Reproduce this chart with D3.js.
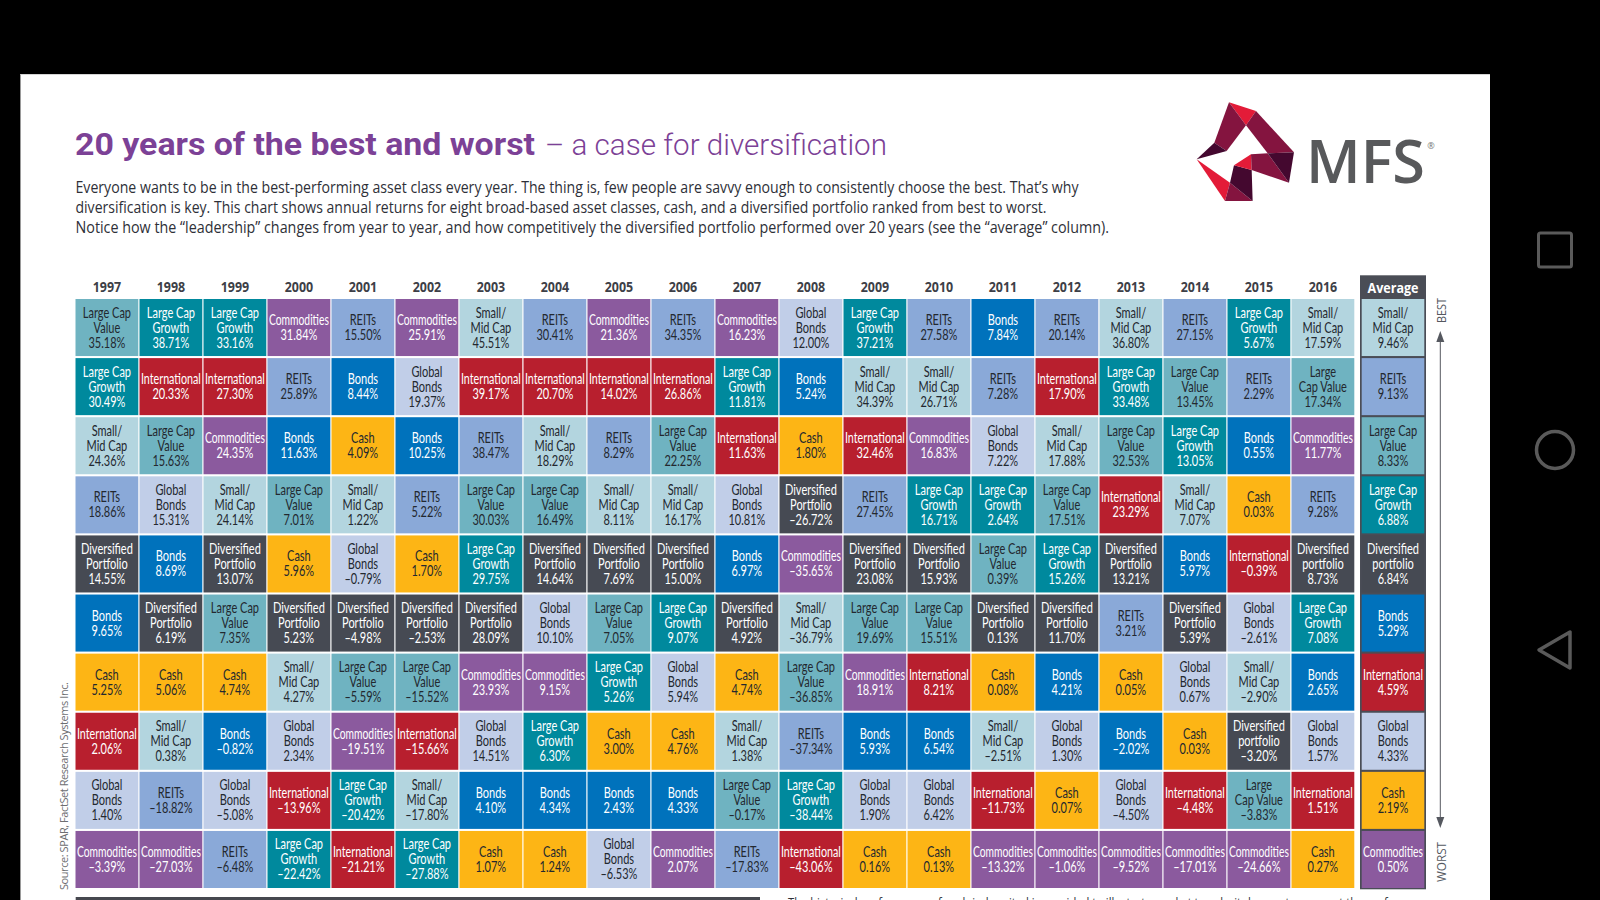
<!DOCTYPE html>
<html>
<head>
<meta charset="utf-8">
<script src="https://cdn.jsdelivr.net/npm/d3@7"></script>
<style>
  html, body { margin: 0; background: #000; overflow: hidden; }
  text { font-family: "Open Sans", sans-serif; }
</style>
</head>
<body>
<div id="chart"></div>
<script>
const years = ["1997","1998","1999","2000","2001","2002","2003","2004","2005","2006","2007","2008","2009","2010","2011","2012","2013","2014","2015","2016"];
const ranks = d3.range(10);

// asset class shown in each rank, best to worst, one row per year
const assets1997 = ["LCV","LCG","SMC","RE","DP","BO","CA","IN","GB","CO"];
const assets1998 = ["LCG","IN","LCV","GB","BO","DP","CA","SMC","RE","CO"];
const assets1999 = ["LCG","IN","CO","SMC","DP","LCV","CA","BO","GB","RE"];
const assets2000 = ["CO","RE","BO","LCV","CA","DP","SMC","GB","IN","LCG"];
const assets2001 = ["RE","BO","CA","SMC","GB","DP","LCV","CO","LCG","IN"];
const assets2002 = ["CO","GB","BO","RE","CA","DP","LCV","IN","SMC","LCG"];
const assets2003 = ["SMC","IN","RE","LCV","LCG","DP","CO","GB","BO","CA"];
const assets2004 = ["RE","IN","SMC","LCV","DP","GB","CO","LCG","BO","CA"];
const assets2005 = ["CO","IN","RE","SMC","DP","LCV","LCG","CA","BO","GB"];
const assets2006 = ["RE","IN","LCV","SMC","DP","LCG","GB","CA","BO","CO"];
const assets2007 = ["CO","LCG","IN","GB","BO","DP","CA","SMC","LCV","RE"];
const assets2008 = ["GB","BO","CA","DP","CO","SMC","LCV","RE","LCG","IN"];
const assets2009 = ["LCG","SMC","IN","RE","DP","LCV","CO","BO","GB","CA"];
const assets2010 = ["RE","SMC","CO","LCG","DP","LCV","IN","BO","GB","CA"];
const assets2011 = ["BO","RE","GB","LCG","LCV","DP","CA","SMC","IN","CO"];
const assets2012 = ["RE","IN","SMC","LCV","LCG","DP","BO","GB","CA","CO"];
const assets2013 = ["SMC","LCG","LCV","IN","DP","RE","CA","BO","GB","CO"];
const assets2014 = ["RE","LCV","LCG","SMC","BO","DP","GB","CA","IN","CO"];
const assets2015 = ["LCG","RE","BO","CA","IN","GB","SMC","DPL","LCW","CO"];
const assets2016 = ["SMC","LCW","CO","RE","DPL","LCG","BO","GB","IN","CA"];
const assetsAverage = ["SMC","RE","LCV","LCG","DPL","BO","IN","GB","CA","CO"];

const returns1997 = [35.18,30.49,24.36,18.86,14.55,9.65,5.25,2.06,1.40,-3.39];
const returns1998 = [38.71,20.33,15.63,15.31,8.69,6.19,5.06,0.38,-18.82,-27.03];
const returns1999 = [33.16,27.30,24.35,24.14,13.07,7.35,4.74,-0.82,-5.08,-6.48];
const returns2000 = [31.84,25.89,11.63,7.01,5.96,5.23,4.27,2.34,-13.96,-22.42];
const returns2001 = [15.50,8.44,4.09,1.22,-0.79,-4.98,-5.59,-19.51,-20.42,-21.21];
const returns2002 = [25.91,19.37,10.25,5.22,1.70,-2.53,-15.52,-15.66,-17.80,-27.88];
const returns2003 = [45.51,39.17,38.47,30.03,29.75,28.09,23.93,14.51,4.10,1.07];
const returns2004 = [30.41,20.70,18.29,16.49,14.64,10.10,9.15,6.30,4.34,1.24];
const returns2005 = [21.36,14.02,8.29,8.11,7.69,7.05,5.26,3.00,2.43,-6.53];
const returns2006 = [34.35,26.86,22.25,16.17,15.00,9.07,5.94,4.76,4.33,2.07];
const returns2007 = [16.23,11.81,11.63,10.81,6.97,4.92,4.74,1.38,-0.17,-17.83];
const returns2008 = [12.00,5.24,1.80,-26.72,-35.65,-36.79,-36.85,-37.34,-38.44,-43.06];
const returns2009 = [37.21,34.39,32.46,27.45,23.08,19.69,18.91,5.93,1.90,0.16];
const returns2010 = [27.58,26.71,16.83,16.71,15.93,15.51,8.21,6.54,6.42,0.13];
const returns2011 = [7.84,7.28,7.22,2.64,0.39,0.13,0.08,-2.51,-11.73,-13.32];
const returns2012 = [20.14,17.90,17.88,17.51,15.26,11.70,4.21,1.30,0.07,-1.06];
const returns2013 = [36.80,33.48,32.53,23.29,13.21,3.21,0.05,-2.02,-4.50,-9.52];
const returns2014 = [27.15,13.45,13.05,7.07,5.97,5.39,0.67,0.03,-4.48,-17.01];
const returns2015 = [5.67,2.29,0.55,0.03,-0.39,-2.61,-2.90,-3.20,-3.83,-24.66];
const returns2016 = [17.59,17.34,11.77,9.28,8.73,7.08,2.65,1.57,1.51,0.27];
const returnsAverage = [9.46,9.13,8.33,6.88,6.84,5.29,4.59,4.33,2.19,0.50];

const assetByYear = [assets1997,assets1998,assets1999,assets2000,assets2001,assets2002,assets2003,assets2004,assets2005,assets2006,assets2007,assets2008,assets2009,assets2010,assets2011,assets2012,assets2013,assets2014,assets2015,assets2016];
const returnByYear = [returns1997,returns1998,returns1999,returns2000,returns2001,returns2002,returns2003,returns2004,returns2005,returns2006,returns2007,returns2008,returns2009,returns2010,returns2011,returns2012,returns2013,returns2014,returns2015,returns2016];

const assetKeys = ["LCV","LCW","LCG","SMC","RE","DP","DPL","BO","CA","IN","GB","CO"];
const assetLines = [["Large Cap","Value"],["Large","Cap Value"],["Large Cap","Growth"],["Small/","Mid Cap"],["REITs"],["Diversified","Portfolio"],["Diversified","portfolio"],["Bonds"],["Cash"],["International"],["Global","Bonds"],["Commodities"]];
const assetFill = ["#6fb3c1","#6fb3c1","#00899d","#b3d5df","#8aa9d8","#464a53","#464a53","#0072bc","#fdb515","#b81f2e","#c1cee8","#8b5a9e"];
const assetInk = ["#23282f","#23282f","#fff","#23282f","#23282f","#fff","#fff","#fff","#23282f","#fff","#23282f","#fff"];

const w = 1600;
const h = 900;
const squeeze = 0.76;
const maxLine = 60;

const x = d3.scaleBand().domain(years).range([75.5, 1354.3]).paddingInner(0.01875);
const xAvg = d3.scaleBand().domain(["Average"]).range([1361.7, 1424.3]);
const y = d3.scaleBand().domain(ranks).range([299, 888]).paddingInner(0.035);
const fill = d3.scaleOrdinal().domain(assetKeys).range(assetFill);
const ink = d3.scaleOrdinal().domain(assetKeys).range(assetInk);
const lines = d3.scaleOrdinal().domain(assetKeys).range(assetLines);
const fmt = v => (v < 0 ? "\u2013" : "") + d3.format(".2f")(Math.abs(v)) + "%";

const svg = d3.select("#chart").append("svg")
  .attr("width", w)
  .attr("height", h)
  .style("display", "block");

svg.append("rect").attr("width", w).attr("height", h).attr("fill", "#000");
svg.append("rect").attr("x", 20.4).attr("y", 74).attr("width", 1469.6).attr("height", 826).attr("fill", "#fff");
svg.append("rect").attr("x", 20.4).attr("y", 74).attr("width", 1469.6).attr("height", 1).attr("fill", "#d4d4d4");

// title and intro
const purple = "#7c4196";
svg.append("text").attr("x", 75).attr("y", 155)
  .attr("textLength", 460).attr("lengthAdjust", "spacingAndGlyphs")
  .style("font-family", "Roboto").style("font-weight", 700).style("font-size", "32px")
  .attr("fill", purple).text("20 years of the best and worst");
svg.append("text").attr("x", 545).attr("y", 155)
  .attr("textLength", 342).attr("lengthAdjust", "spacingAndGlyphs")
  .style("font-family", "Roboto").style("font-weight", 300).style("font-size", "30px")
  .attr("fill", purple).text("\u2013 a case for diversification");

const intro = [
  ["Everyone wants to be in the best-performing asset class every year. The thing is, few people are savvy enough to consistently choose the best. That\u2019s why", 1003],
  ["diversification is key. This chart shows annual returns for eight broad-based asset classes, cash, and a diversified portfolio ranked from best to worst.", 971],
  ["Notice how the \u201Cleadership\u201D changes from year to year, and how competitively the diversified portfolio performed over 20 years (see the \u201Caverage\u201D column).", 1033.5]
];
svg.selectAll(".intro").data(intro).enter().append("text")
  .attr("class", "intro")
  .attr("x", 75.5)
  .attr("y", (d, i) => 192.5 + i * 20.3)
  .attr("textLength", d => d[1])
  .attr("lengthAdjust", "spacingAndGlyphs")
  .style("font-size", "15.5px")
  .attr("fill", "#2e3038")
  .text(d => d[0]);

// logo
const logoPieces = [
  ["#e31b38", [[147,37],[228,63],[198,106]]],
  ["#84143f", [[147,37],[198,106],[140,183],[103,158]]],
  ["#84143f", [[228,63],[342,187],[263,190],[198,106]]],
  ["#44082f", [[103,158],[140,183],[50,208]]],
  ["#e31b38", [[50,208],[150,278],[135,333]]],
  ["#84143f", [[150,278],[218,333],[135,333]]],
  ["#44082f", [[162,226],[215,240],[218,333],[150,278]]],
  ["#e31b38", [[162,226],[213,193],[215,240]]],
  ["#84143f", [[213,193],[263,190],[327,278],[215,240]]],
  ["#44082f", [[263,190],[342,187],[327,278]]]
];
const logo = svg.append("g").attr("transform", "translate(1180,90) scale(0.3333)");
logo.selectAll("polygon").data(logoPieces).enter().append("polygon")
  .attr("points", d => d[1].join(" "))
  .attr("fill", d => d[0]);
svg.append("text").attr("x", 1306).attr("y", 183)
  .attr("textLength", 119).attr("lengthAdjust", "spacingAndGlyphs")
  .style("font-weight", 600).style("font-size", "60px")
  .attr("fill", "#58595b").text("MFS");
svg.append("text").attr("x", 1431).attr("y", 149).attr("text-anchor", "middle")
  .style("font-size", "9px").attr("fill", "#777").text("\u00AE");

// year labels
const axis = svg.append("g")
  .attr("transform", "translate(0,292)")
  .call(d3.axisTop(x).tickSize(0).tickPadding(0));
axis.select(".domain").remove();
axis.selectAll("text")
  .attr("transform", "scale(0.86,1)")
  .style("font-family", "Open Sans")
  .style("font-weight", 700)
  .style("font-size", "14.5px")
  .attr("fill", "#3d4047");

// average column frame and header
svg.append("rect").attr("x", 1360).attr("y", 275.3).attr("width", 66).attr("height", 614).attr("fill", "#4a4d56");
svg.append("text").attr("x", xAvg("Average") + xAvg.bandwidth() / 2).attr("y", 292.5)
  .attr("text-anchor", "middle").attr("textLength", 51).attr("lengthAdjust", "spacingAndGlyphs")
  .style("font-weight", 700).style("font-size", "14.5px").attr("fill", "#fff").text("Average");

// cells
const cells = [];
years.forEach((yr, c) => ranks.forEach(r => cells.push({
  cx: x(yr), cw: x.bandwidth(), rank: r, asset: assetByYear[c][r], value: returnByYear[c][r]
})));
ranks.forEach(r => cells.push({
  cx: xAvg("Average"), cw: xAvg.bandwidth(), rank: r, asset: assetsAverage[r], value: returnsAverage[r]
}));

const cell = svg.selectAll(".cell").data(cells).enter().append("g").attr("class", "cell");
cell.append("rect")
  .attr("x", d => d.cx)
  .attr("y", d => y(d.rank))
  .attr("width", d => d.cw)
  .attr("height", y.bandwidth())
  .attr("fill", d => fill(d.asset));

const lineGap = 15;
cell.each(function(d) {
  const rows = lines(d.asset).concat(fmt(d.value));
  const top = y(d.rank) + y.bandwidth() / 2 - (rows.length - 1) * lineGap / 2 + 5;
  d3.select(this).selectAll("text").data(rows).enter().append("text")
    .attr("text-anchor", "middle")
    .style("font-family", "Lato")
    .style("font-size", "14.5px")
    .attr("fill", ink(d.asset))
    .text(t => t)
    .attr("transform", function(t, i) {
      // long words are pressed harder so they stay inside the cell
      const sx = Math.min(squeeze, maxLine / this.getComputedTextLength());
      return "translate(" + (d.cx + d.cw / 2) + "," + (top + i * lineGap) + ") scale(" + sx + ",1)";
    });
});

// best / worst arrow
const arrowInk = "#55585f";
svg.append("line").attr("x1", 1440.3).attr("x2", 1440.3).attr("y1", 336).attr("y2", 824)
  .attr("stroke", arrowInk).attr("stroke-width", 1);
svg.append("polygon").attr("points", "1440.3,331 1436.3,342 1444.3,342").attr("fill", arrowInk);
svg.append("polygon").attr("points", "1440.3,828 1436.3,817 1444.3,817").attr("fill", arrowInk);
svg.append("text").attr("transform", "translate(1446,323) rotate(-90)")
  .attr("textLength", 25).attr("lengthAdjust", "spacingAndGlyphs")
  .style("font-size", "12px").attr("fill", arrowInk).text("BEST");
svg.append("text").attr("transform", "translate(1446,882) rotate(-90)")
  .attr("textLength", 40).attr("lengthAdjust", "spacingAndGlyphs")
  .style("font-size", "12px").attr("fill", arrowInk).text("WORST");

// source, running off the bottom of the page
svg.append("text").attr("transform", "translate(68,890) rotate(-90)")
  .attr("textLength", 208)
  .style("font-size", "11px").attr("fill", "#6d6e71")
  .text("Source: SPAR, FactSet Research Systems Inc.");
svg.append("rect").attr("x", 75.7).attr("y", 897).attr("width", 684.3).attr("height", 3).attr("fill", "#46484f");
svg.append("text").attr("x", 788).attr("y", 907)
  .attr("textLength", 646).attr("lengthAdjust", "spacingAndGlyphs")
  .style("font-size", "13px").attr("fill", "#2e3038")
  .text("The historical performance of each index cited is provided to illustrate market trends; it does not represent the performance");

// phone navigation buttons
const navInk = "#5a5a5a";
svg.append("rect").attr("x", 1538.5).attr("y", 233).attr("width", 33).attr("height", 34).attr("rx", 2)
  .attr("fill", "none").attr("stroke", navInk).attr("stroke-width", 3);
svg.append("circle").attr("cx", 1555).attr("cy", 450).attr("r", 18.5)
  .attr("fill", "none").attr("stroke", navInk).attr("stroke-width", 3.5);
svg.append("polygon").attr("points", "1539,650 1570,632 1570,668")
  .attr("fill", "none").attr("stroke", navInk).attr("stroke-width", 3.5).attr("stroke-linejoin", "round");
</script>
</body>
</html>
